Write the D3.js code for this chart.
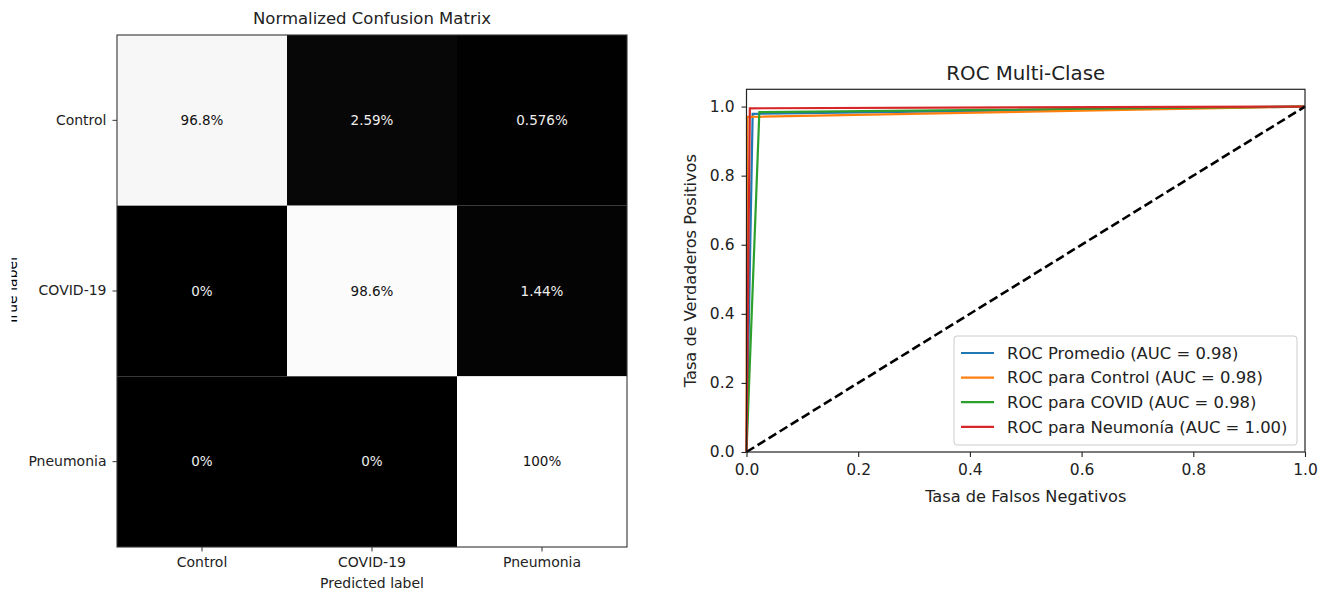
<!DOCTYPE html>
<html>
<head>
<meta charset="utf-8">
<script src="https://cdn.jsdelivr.net/npm/d3@7"></script>
<style>
  body { margin: 0; background: #fff; }
  text { font-family: "DejaVu Sans", sans-serif; }
</style>
</head>
<body>
<div id="chart"></div>
<script>
// confusion matrix data
var cmClasses = ["Control", "COVID-19", "Pneumonia"];
var cmValues = [[0.968, 0.0259, 0.00576],
                [0.0, 0.986, 0.0144],
                [0.0, 0.0, 1.0]];
var cmLabels = [["96.8%", "2.59%", "0.576%"],
                ["0%", "98.6%", "1.44%"],
                ["0%", "0%", "100%"]];

// ROC data
var rocNames = ["ROC Promedio (AUC = 0.98)", "ROC para Control (AUC = 0.98)",
                "ROC para COVID (AUC = 0.98)", "ROC para Neumonía (AUC = 1.00)"];
var rocColors = ["#1f77b4", "#ff7f0e", "#2ca02c", "#d62728"];
var promedioFpr = [0, 0.011, 1], promedioTpr = [0, 0.979, 1];
var controlFpr = [0, 0.0015, 1], controlTpr = [0, 0.970, 1];
var covidFpr = [0, 0.023, 1], covidTpr = [0, 0.984, 1];
var neumoniaFpr = [0, 0.006, 1], neumoniaTpr = [0, 0.995, 1];
var rocTicks = [0, 0.2, 0.4, 0.6, 0.8, 1.0];

var svg = d3.select("#chart").append("svg")
    .attr("width", 1330)
    .attr("height", 591);

// ******** left: confusion matrix ********
var cm = {left: 117, top: 35, right: 627, bottom: 547};

var cx = d3.scaleBand().domain(cmClasses).range([cm.left, cm.right]);
var cy = d3.scaleBand().domain(cmClasses).range([cm.top, cm.bottom]);
var grey = d3.scaleLinear().domain([0, 1]).range(["#000", "#fff"]);

var cells = [];
cmValues.forEach(function(row, i) {
  row.forEach(function(v, j) {
    cells.push({r: cmClasses[i], c: cmClasses[j], v: v, label: cmLabels[i][j]});
  });
});

svg.append("g").selectAll("rect")
  .data(cells).enter().append("rect")
    .attr("x", function(d) { return cx(d.c); })
    .attr("y", function(d) { return cy(d.r); })
    .attr("width", cx.bandwidth())
    .attr("height", cy.bandwidth())
    .attr("fill", function(d) { return grey(d.v); });

svg.append("g").selectAll("text")
  .data(cells).enter().append("text")
    .attr("x", function(d) { return cx(d.c) + cx.bandwidth() / 2; })
    .attr("y", function(d) { return cy(d.r) + cy.bandwidth() / 2; })
    .attr("dy", "0.35em")
    .attr("text-anchor", "middle")
    .style("font-size", "13.5px")
    .attr("fill", function(d) { return d.v > 0.5 ? "#111" : "#eee"; })
    .text(function(d) { return d.label; });

svg.append("rect")
    .attr("x", cm.left).attr("y", cm.top)
    .attr("width", cm.right - cm.left).attr("height", cm.bottom - cm.top)
    .attr("fill", "none").attr("stroke", "#333").attr("stroke-width", 1.1);

var cmX = svg.append("g")
    .attr("transform", "translate(0," + cm.bottom + ")")
    .call(d3.axisBottom(cx).tickSize(4.5).tickPadding(6));
var cmY = svg.append("g")
    .attr("transform", "translate(" + cm.left + ",0)")
    .call(d3.axisLeft(cy).tickSize(4.5).tickPadding(6));
[cmX, cmY].forEach(function(a) {
  a.select(".domain").remove();
  a.selectAll("line").attr("stroke", "#333");
  a.selectAll("text").style("font-size", "14px").attr("fill", "#222")
    .style("font-family", "DejaVu Sans");
});

svg.append("text")
    .attr("x", (cm.left + cm.right) / 2).attr("y", 24)
    .attr("text-anchor", "middle")
    .style("font-size", "16.5px").attr("fill", "#222")
    .text("Normalized Confusion Matrix");

svg.append("text")
    .attr("x", (cm.left + cm.right) / 2).attr("y", 588)
    .attr("text-anchor", "middle")
    .style("font-size", "14px").attr("fill", "#222")
    .text("Predicted label");

// the y label is cut by the screenshot edge
svg.append("clipPath").attr("id", "cutLeft")
  .append("rect").attr("x", 11.5).attr("y", 0).attr("width", 40).attr("height", 591);
svg.append("g")
    .attr("clip-path", "url(#cutLeft)")
  .append("text")
    .attr("transform", "translate(16.5," + (cm.top + cm.bottom) / 2 + ") rotate(-90)")
    .attr("text-anchor", "middle")
    .style("font-size", "14px").attr("fill", "#000")
    .text("True label");

// ******** right: ROC curves ********
var roc = {left: 746.5, top: 89.3, right: 1305, bottom: 452};

var xScale = d3.scaleLinear().domain([0, 1]).range([roc.left, roc.right]);
var yScale = d3.scaleLinear().domain([0, 1.05]).range([roc.bottom, roc.top]);

var rocSeries = [
  {fpr: promedioFpr, tpr: promedioTpr},
  {fpr: controlFpr, tpr: controlTpr},
  {fpr: covidFpr, tpr: covidTpr},
  {fpr: neumoniaFpr, tpr: neumoniaTpr}
];

var rocLine = d3.line()
    .x(function(d) { return xScale(d[0]); })
    .y(function(d) { return yScale(d[1]); });

var plot = svg.append("g");

rocSeries.forEach(function(s, i) {
  plot.append("path")
    .datum(d3.zip(s.fpr, s.tpr))
    .attr("d", rocLine)
    .attr("fill", "none")
    .attr("stroke", rocColors[i])
    .attr("stroke-width", 2.2);
});

plot.append("path")
    .datum([[0, 0], [1, 1]])
    .attr("d", rocLine)
    .attr("fill", "none")
    .attr("stroke", "#000")
    .attr("stroke-width", 2.6)
    .attr("stroke-dasharray", "9,4");

svg.append("rect")
    .attr("x", roc.left).attr("y", roc.top)
    .attr("width", roc.right - roc.left).attr("height", roc.bottom - roc.top)
    .attr("fill", "none").attr("stroke", "#222").attr("stroke-width", 1.2);

var rocX = svg.append("g")
    .attr("transform", "translate(0," + roc.bottom + ")")
    .call(d3.axisBottom(xScale).tickValues(rocTicks).tickFormat(d3.format(".1f"))
          .tickSize(5).tickPadding(7));
var rocY = svg.append("g")
    .attr("transform", "translate(" + roc.left + ",0)")
    .call(d3.axisLeft(yScale).tickValues(rocTicks).tickFormat(d3.format(".1f"))
          .tickSize(5).tickPadding(7));
[rocX, rocY].forEach(function(a) {
  a.select(".domain").remove();
  a.selectAll("line").attr("stroke", "#222").attr("stroke-width", 1.1);
  a.selectAll("text").style("font-size", "15.5px").attr("fill", "#222")
    .style("font-family", "DejaVu Sans");
});

svg.append("text")
    .attr("x", (roc.left + roc.right) / 2).attr("y", 80)
    .attr("text-anchor", "middle")
    .style("font-size", "19.8px").attr("fill", "#222")
    .text("ROC Multi-Clase");

svg.append("text")
    .attr("x", (roc.left + roc.right) / 2).attr("y", 502)
    .attr("text-anchor", "middle")
    .style("font-size", "16.2px").attr("fill", "#222")
    .text("Tasa de Falsos Negativos");

svg.append("text")
    .attr("transform", "translate(696," + (roc.top + roc.bottom) / 2 + ") rotate(-90)")
    .attr("text-anchor", "middle")
    .style("font-size", "16.2px").attr("fill", "#222")
    .text("Tasa de Verdaderos Positivos");

// legend
var legend = svg.append("g").attr("transform", "translate(954,336)");
legend.append("rect")
    .attr("width", 343).attr("height", 109)
    .attr("rx", 3)
    .attr("fill", "#fff").attr("fill-opacity", 0.8)
    .attr("stroke", "#ccc").attr("stroke-width", 1);

var entries = legend.selectAll("g.entry")
  .data(rocNames).enter().append("g")
    .attr("class", "entry")
    .attr("transform", function(d, i) { return "translate(0," + (17 + i * 24.6) + ")"; });
entries.append("line")
    .attr("x1", 7).attr("x2", 40)
    .attr("stroke", function(d, i) { return rocColors[i]; })
    .attr("stroke-width", 2.2);
entries.append("text")
    .attr("x", 53).attr("dy", "0.35em")
    .style("font-size", "16.4px").attr("fill", "#222")
    .text(function(d) { return d; });
</script>
</body>
</html>
